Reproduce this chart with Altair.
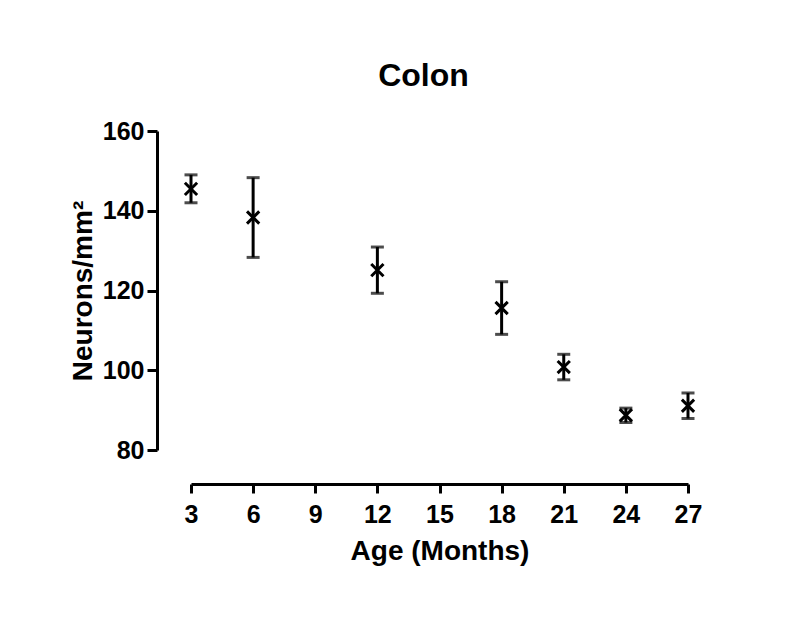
import altair as alt
import pandas as pd

age = [3, 6, 12, 18, 21, 24, 27]
mean = [145.5, 138.3, 125.1, 115.6, 100.8, 88.7, 91.1]
err = [3.5, 10.0, 5.8, 6.6, 3.2, 1.8, 3.2]

df = pd.DataFrame({"age": age, "mean": mean, "err": err})
df["lo"] = df["mean"] - df["err"]
df["hi"] = df["mean"] + df["err"]

FONT = "Liberation Sans"

x = alt.X("age:Q", scale=alt.Scale(domain=[3, 27], nice=False, zero=False),
          axis=alt.Axis(values=[3, 6, 9, 12, 15, 18, 21, 24, 27], title="Age (Months)",
                        offset=34, grid=False, domainColor="black", domainWidth=3,
                        tickColor="black", tickWidth=3, tickSize=9,
                        labelFont=FONT, labelFontSize=25, labelFontWeight="bold",
                        labelColor="black", labelPadding=9, labelFlush=False,
                        titleFont=FONT, titleFontSize=28, titleFontWeight="bold",
                        titleColor="black", titlePadding=10))
y = alt.Y("mean:Q", scale=alt.Scale(domain=[80, 160], nice=False, zero=False),
          axis=alt.Axis(values=[80, 100, 120, 140, 160], title="Neurons/mm²",
                        offset=34, grid=False, domainColor="black", domainWidth=3,
                        tickColor="black", tickWidth=3, tickSize=10,
                        labelFont=FONT, labelFontSize=25, labelFontWeight="bold",
                        labelColor="black", labelPadding=3, labelFlush=False,
                        titleFont=FONT, titleFontSize=28, titleFontWeight="bold",
                        titleColor="black", titlePadding=5))

base = alt.Chart(df)

bars = base.mark_rule(color="black", strokeWidth=3).encode(
    x=x, y=alt.Y("lo:Q"), y2="hi:Q")
caps_hi = base.mark_tick(color="black", orient="horizontal", size=13, thickness=3).encode(
    x="age:Q", y="hi:Q")
caps_lo = base.mark_tick(color="black", orient="horizontal", size=13, thickness=3).encode(
    x="age:Q", y="lo:Q")
pts = base.mark_point(shape="M-1,-1L1,1M-1,1L1,-1", size=150, strokeWidth=3,
                      color="black", filled=False, opacity=1).encode(x=x, y=y)

chart = alt.layer(bars, caps_hi, caps_lo, pts).properties(
    width=497, height=319,
    background="white",
    title=alt.TitleParams("Colon", font=FONT, fontSize=32, fontWeight="bold",
                          color="black", offset=26, dx=-16, anchor="middle"),
    autosize=alt.AutoSizeParams(type="none"),
    padding={"left": 183, "top": 123, "right": 96, "bottom": 162},
).configure_view(strokeWidth=0, stroke=None)

chart.save("out.html", embed_options={"renderer": "svg", "actions": False})
